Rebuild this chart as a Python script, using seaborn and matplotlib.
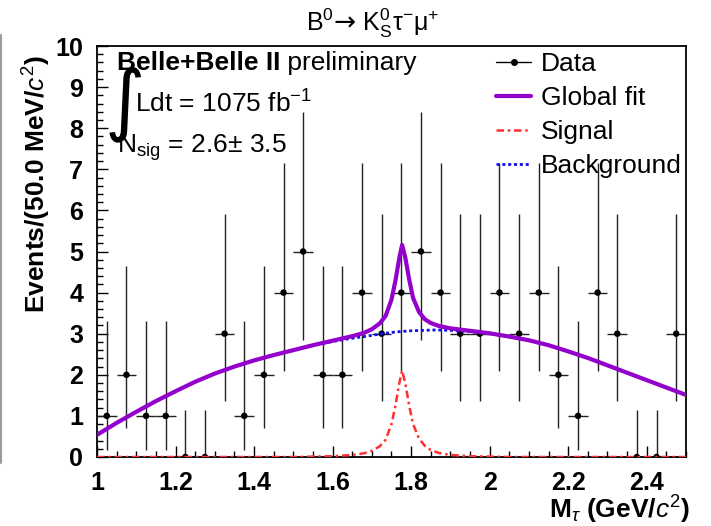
import numpy as np
import pandas as pd
import matplotlib
matplotlib.use("Agg")
import matplotlib.pyplot as plt
import seaborn as sns
from matplotlib.lines import Line2D
from matplotlib.ticker import MultipleLocator, FormatStrFormatter

# ---------------- data ----------------
bin_low, bin_high, n_bins = 1.0, 2.5, 30
counts = [1, 2, 1, 1, 0, 0, 3, 1, 2, 4,
          5, 2, 2, 4, 3, 4, 5, 4, 3, 3,
          4, 3, 4, 2, 1, 4, 3, 0, 0, 3]
# asymmetric Poisson errors (RooFit style) indexed by count
pois_lo = [0.0, 0.827, 1.292, 1.633, 1.914, 2.162]
pois_hi = [1.148, 2.299, 2.637, 2.918, 3.162, 3.382]

curve_x = [1.00, 1.05, 1.10, 1.15, 1.20, 1.25, 1.30, 1.35, 1.40, 1.45,
           1.50, 1.55, 1.60, 1.65, 1.68, 1.70, 1.72, 1.735, 1.75, 1.76,
           1.77, 1.777, 1.785, 1.795, 1.805, 1.82, 1.835, 1.85, 1.87, 1.90,
           1.95, 2.00, 2.05, 2.10, 2.15, 2.20, 2.25, 2.30, 2.35, 2.40,
           2.45, 2.50]
background = [0.54, 0.83, 1.10, 1.36, 1.60, 1.83, 2.03, 2.20, 2.35, 2.48,
              2.60, 2.71, 2.81, 2.89, 2.93, 2.96, 2.99, 3.01, 3.03, 3.04,
              3.05, 3.06, 3.06, 3.07, 3.07, 3.08, 3.08, 3.09, 3.09, 3.08,
              3.05, 3.00, 2.93, 2.84, 2.72, 2.57, 2.41, 2.23, 2.05, 1.87,
              1.69, 1.51]
signal = [0.0, 0.0, 0.0, 0.0, 0.0, 0.0, 0.0, 0.0, 0.0, 0.0,
          0.0, 0.01, 0.02, 0.05, 0.09, 0.15, 0.26, 0.42, 0.80, 1.25,
          1.80, 2.10, 1.80, 1.25, 0.80, 0.45, 0.27, 0.17, 0.10, 0.05,
          0.02, 0.01, 0.0, 0.0, 0.0, 0.0, 0.0, 0.0, 0.0, 0.0,
          0.0, 0.0]

legend_labels = ["Data", "Global fit", "Signal", "Background"]
x_ticks = [1.0, 1.2, 1.4, 1.6, 1.8, 2.0, 2.2, 2.4]
title_parts = [r"B$^{0}$", "→", r" K$^{0}_{\mathrm{S}}$τ$^{-}$μ$^{+}$"]

# ---------------- style ----------------
sns.set_theme(style="ticks")
plt.rcParams.update({
    "font.family": ["Liberation Sans", "DejaVu Sans"],
    "mathtext.fontset": "custom",
    "mathtext.rm": "Liberation Sans",
    "mathtext.it": "Liberation Sans:italic",
    "mathtext.bf": "Liberation Sans:bold",
    "mathtext.sf": "Liberation Sans",
    "axes.linewidth": 1.3,
    "axes.edgecolor": "black",
    "text.color": "black",
    "axes.labelcolor": "black",
    "xtick.color": "black",
    "ytick.color": "black",
})

edges = np.linspace(bin_low, bin_high, n_bins + 1)
centers = 0.5 * (edges[:-1] + edges[1:])
half_w = 0.5 * (edges[1] - edges[0])
cnt = np.array(counts)
lo = np.array([pois_lo[c] for c in counts])
hi = np.array([pois_hi[c] for c in counts])

curves = pd.DataFrame({"x": curve_x, "bkg": background, "sig": signal})
curves["tot"] = curves["bkg"] + curves["sig"]

fig = plt.figure(figsize=(7.11, 5.26), dpi=100)
ax = fig.add_axes([97 / 711, 69 / 526, 589 / 711, 411 / 526])

# data points
ax.errorbar(centers, cnt, yerr=[lo, hi], xerr=half_w, fmt="none",
            ecolor="#222222", elinewidth=1.0, capsize=0, zorder=2)
sns.scatterplot(x=centers, y=cnt, ax=ax, color="black", s=22,
                edgecolor="none", zorder=3)

# curves
sns.lineplot(data=curves, x="x", y="bkg", ax=ax, color="#1010ee",
             lw=2.0, linestyle=(0, (1.1, 1.0)), estimator=None, zorder=4)
sns.lineplot(data=curves, x="x", y="tot", ax=ax, color="#9400cc",
             lw=3.0, estimator=None, zorder=5)
sns.lineplot(data=curves, x="x", y="sig", ax=ax, color="#ff3030",
             lw=1.8, linestyle=(0, (3, 1.5, 1, 1.5)), estimator=None,
             zorder=6)

ax.set_xlim(bin_low, bin_high)
ax.set_ylim(0, 10)
ax.set_xticks(x_ticks)
ax.xaxis.set_major_formatter(FormatStrFormatter("%g"))
ax.xaxis.set_minor_locator(MultipleLocator(0.05))
ax.yaxis.set_major_locator(MultipleLocator(1))
ax.yaxis.set_minor_locator(MultipleLocator(0.2))
ax.tick_params(which="both", direction="in", top=False, right=False,
               color="black", width=1.0)
ax.tick_params(which="major", length=8, labelsize=18, pad=10)
ax.tick_params(which="minor", length=4.5)
for lab in ax.get_xticklabels() + ax.get_yticklabels():
    lab.set_fontweight("bold")

ax.set_xlabel(r"M$_{\tau}$ (GeV/$c^{2}$)", fontsize=19, fontweight="bold",
              ha="right", va="center")
ax.xaxis.set_label_coords(1.007, -0.129)
ax.set_ylabel(r"Events/(50.0 MeV/$c^{2}$)", fontsize=19, fontweight="bold",
              ha="center", va="bottom")
ax.yaxis.set_label_coords(-0.075, 0.664)

# title, built from pieces so the arrow can come from DejaVu Sans
renderer = fig.canvas.get_renderer()
fig_w_px = fig.get_figwidth() * fig.dpi
x_cursor = 306 / fig_w_px
title_y = 1 - 31 / 526
for i, part in enumerate(title_parts):
    kw = dict(fontsize=18, ha="left", va="baseline")
    if i == 1:
        kw["family"] = "DejaVu Sans"
        kw["fontsize"] = 19
    t = fig.text(x_cursor, title_y, part, **kw)
    bb = t.get_window_extent(renderer)
    x_cursor = bb.x1 / fig_w_px

# annotations
t1 = ax.text(0.034, 0.958, "Belle+Belle II", transform=ax.transAxes,
             fontsize=19, fontweight="bold", ha="left", va="center")
ax.annotate(" preliminary", xy=(1, 0), xycoords=t1, fontsize=19,
            ha="left", va="bottom")
ax.text(0.047, 0.86, "∫", transform=ax.transAxes, fontsize=56,
        family="DejaVu Sans", ha="center", va="center")
ax.text(0.065, 0.858, r"Ldt = 1075 fb$^{-1}$", transform=ax.transAxes,
        fontsize=19, ha="left", va="center")
ax.text(0.034, 0.752, r"N$_{\mathrm{sig}}$ = 2.6± 3.5",
        transform=ax.transAxes, fontsize=19, ha="left", va="center")

# legend
handles = [
    Line2D([], [], color="black", lw=1.0, marker="o", markersize=4),
    Line2D([], [], color="#9400cc", lw=3.0),
    Line2D([], [], color="#ff3030", lw=1.8, linestyle=(0, (3, 1.5, 1, 1.5))),
    Line2D([], [], color="#1010ee", lw=2.0, linestyle=(0, (1.1, 1.0))),
]
leg = ax.legend(handles, legend_labels, loc="upper left",
                bbox_to_anchor=(0.677, 0.985), frameon=False, fontsize=19,
                handlelength=1.35, handletextpad=0.35, labelspacing=0.38,
                borderpad=0.0, borderaxespad=0.0)

# thin grey line at the far left edge of the picture
fig.add_artist(Line2D([0.0015, 0.0015], [1 - 35 / 526, 1 - 463 / 526],
                      transform=fig.transFigure, color="#9a9a9a", lw=1.5))

fig.savefig("out.png", dpi=100, facecolor="white")
